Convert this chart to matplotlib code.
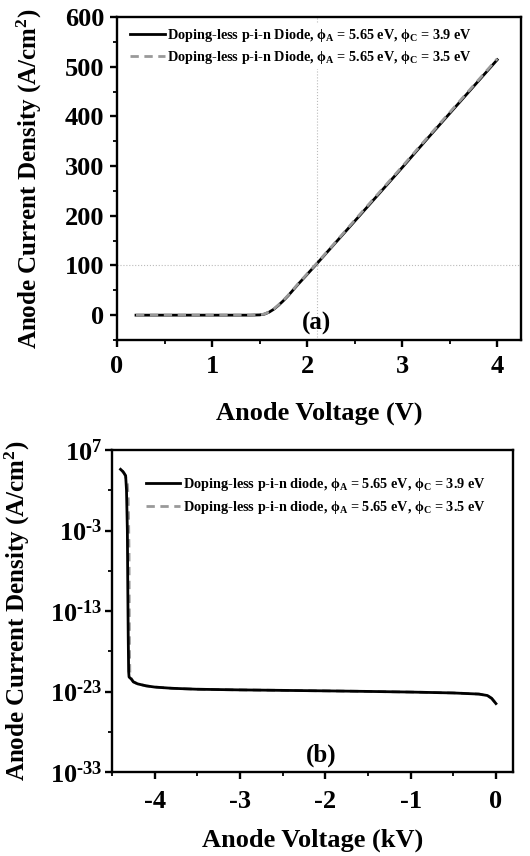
import numpy as np
import matplotlib.pyplot as plt
from matplotlib.ticker import MultipleLocator, FixedLocator, FuncFormatter, NullFormatter

# (a) forward characteristic, anode voltage in V, current density in A/cm^2
v_a = [0.2, 0.5, 0.8, 1.0, 1.2, 1.4, 1.5, 1.55, 1.6, 1.65, 1.7, 1.75, 1.8, 1.9, 2.0, 2.1,
       2.3, 2.5, 2.75, 3.0, 3.25, 3.5, 3.75, 4.0]
j_a_39 = [0, 0, 0, 0, 0, 0, 0.5, 2, 6, 12, 20, 29, 39, 61, 82, 103,
          146, 189, 243, 297, 352, 406, 460, 514]
j_a_35 = [0, 0, 0, 0, 0, 0, 0.6, 2.2, 6.5, 12.5, 21, 30, 40, 62, 83, 104,
          147, 191, 245, 299, 354, 408, 462, 516]

# (b) reverse characteristic, anode voltage in kV, log10 of current density
v_b = [-4.40, -4.37, -4.34, -4.33, -4.32, -4.315, -4.31, -4.305, -4.30, -4.27, -4.25, -4.2,
       -4.1, -4.0, -3.8, -3.5, -3.0, -2.5, -2.0, -1.5, -1.0, -0.5, -0.2, -0.1, -0.05, 0.0]
logj_b_39 = [4.6, 4.3, 3.8, 2.0, -3.0, -10.0, -16.0, -20.5, -21.2, -21.5, -21.8, -22.05,
             -22.3, -22.45, -22.6, -22.72, -22.8, -22.86, -22.92, -22.99, -23.07, -23.18,
             -23.32, -23.5, -23.85, -24.5]
v_b_35 = [-4.38, -4.35, -4.32, -4.31, -4.305, -4.30, -4.298, -4.295, -4.29, -4.27, -4.25,
          -4.2, -4.1, -4.0, -3.8, -3.5, -3.0, -2.5, -2.0, -1.5, -1.0, -0.5, -0.2, -0.1, -0.05, 0.0]
logj_b_35 = [4.4, 4.0, 2.8, 1.0, -2.0, -6.0, -12.0, -18.0, -21.0, -21.5, -21.8, -22.05,
             -22.3, -22.45, -22.6, -22.72, -22.8, -22.86, -22.92, -22.99, -23.07, -23.18,
             -23.32, -23.5, -23.85, -24.5]

label_a = [r'Doping-less p-i-n Diode, $\phi_{A}$ = 5.65 eV, $\phi_{C}$ = 3.9 eV',
           r'Doping-less p-i-n Diode, $\phi_{A}$ = 5.65 eV, $\phi_{C}$ = 3.5 eV']
label_b = [r'Doping-less p-i-n diode, $\phi_{A}$ = 5.65 eV, $\phi_{C}$ = 3.9 eV',
           r'Doping-less p-i-n diode, $\phi_{A}$ = 5.65 eV, $\phi_{C}$ = 3.5 eV']

plt.rcParams['font.family'] = ['Liberation Serif', 'DejaVu Serif']
plt.rcParams['font.weight'] = 'bold'
plt.rcParams['mathtext.fontset'] = 'custom'
plt.rcParams['mathtext.rm'] = 'Liberation Serif:bold'
plt.rcParams['mathtext.it'] = 'Liberation Serif:bold'
plt.rcParams['mathtext.bf'] = 'Liberation Serif:bold'
plt.rcParams['axes.unicode_minus'] = False
plt.rcParams['axes.linewidth'] = 1.7


def style_axes(ax, pad_x, pad_y):
    ax.tick_params(which='major', direction='out', length=5, width=1.7, labelsize=19,
                   top=False, right=False)
    ax.tick_params(which='minor', direction='out', length=3, width=1.3,
                   top=False, right=False)
    ax.tick_params(axis='x', which='major', pad=pad_x)
    ax.tick_params(axis='y', which='major', pad=pad_y)


fig = plt.figure(figsize=(5.3, 8.56), dpi=100)
W, H = 530, 856

# panel (a)
ax1 = fig.add_axes([117 / W, 1 - 340 / H, (521 - 117) / W, (340 - 17) / H])
ax1.axvline(2.1, color='#bbbbbb', ls=':', lw=0.8, zorder=0)
ax1.axhline(100, color='#bbbbbb', ls=':', lw=0.8, zorder=0)
ax1.plot(v_a, j_a_39, color='black', lw=2, label=label_a[0])
ax1.plot(v_a, j_a_35, color='#999999', lw=2, ls=(0, (3, 2)), label=label_a[1])
ax1.set_xlim(0, 4.25)
ax1.set_ylim(-50, 600)
ax1.xaxis.set_major_locator(MultipleLocator(1))
ax1.xaxis.set_minor_locator(MultipleLocator(0.5))
ax1.yaxis.set_major_locator(MultipleLocator(100))
ax1.yaxis.set_minor_locator(MultipleLocator(50))
style_axes(ax1, 6, 4)
ax1.set_xlabel('Anode Voltage (V)', fontsize=19, fontweight='bold')
ax1.set_ylabel(r'Anode Current Density (A/cm$^2$)', fontsize=18, fontweight='bold')
ax1.xaxis.set_label_coords(0.5, -0.19)
ax1.yaxis.set_label_coords(-0.18, 0.5)
ax1.text(2.1, -16, '(a)', fontsize=18, fontweight='bold', ha='center', va='center')
ax1.legend(loc='upper left', bbox_to_anchor=(0.008, 1.0),
           frameon=True, facecolor='white', edgecolor='none', framealpha=1,
           handlelength=2.4, handletextpad=0.2, labelspacing=0.38,
           borderpad=0.2, prop={'weight': 'bold', 'size': 10.3})

# panel (b)
ax2 = fig.add_axes([112 / W, 1 - 772 / H, (513 - 112) / W, (772 - 450) / H])
ax2.plot(v_b_35, 10.0 ** np.array(logj_b_35), color='#999999', lw=2, ls=(0, (3, 2)),
         label=label_b[1], zorder=1)
ax2.plot(v_b, 10.0 ** np.array(logj_b_39), color='black', lw=2, label=label_b[0], zorder=2)
ax2.set_yscale('log')
ax2.set_xlim(-4.5, 0.2)
ax2.set_ylim(1e-33, 1e7)
ax2.xaxis.set_major_locator(MultipleLocator(1))
ax2.xaxis.set_minor_locator(MultipleLocator(0.5))
ax2.yaxis.set_major_locator(FixedLocator([1e-33, 1e-23, 1e-13, 1e-3, 1e7]))
ax2.yaxis.set_minor_locator(FixedLocator([1e-28, 1e-18, 1e-8, 1e2]))
ax2.yaxis.set_major_formatter(FuncFormatter(
    lambda v, p: r'10$^{\text{%d}}$' % round(np.log10(v))))
ax2.yaxis.set_minor_formatter(NullFormatter())
style_axes(ax2, 8, 2)
ax2.set_xlabel('Anode Voltage (kV)', fontsize=19, fontweight='bold')
ax2.set_ylabel(r'Anode Current Density (A/cm$^2$)', fontsize=18, fontweight='bold')
ax2.xaxis.set_label_coords(0.5, -0.175)
ax2.yaxis.set_label_coords(-0.2, 0.5)
ax2.text(-2.05, 10 ** -30.9, '(b)', fontsize=18, fontweight='bold', ha='center', va='center')
handles, labels = ax2.get_legend_handles_labels()
ax2.legend(handles[::-1], labels[::-1], loc='upper left', bbox_to_anchor=(0.06, 0.95),
           frameon=False, handlelength=2.4, handletextpad=0.2, labelspacing=0.38,
           borderpad=0.2, prop={'weight': 'bold', 'size': 10.3})

fig.savefig('out.png', dpi=100)
